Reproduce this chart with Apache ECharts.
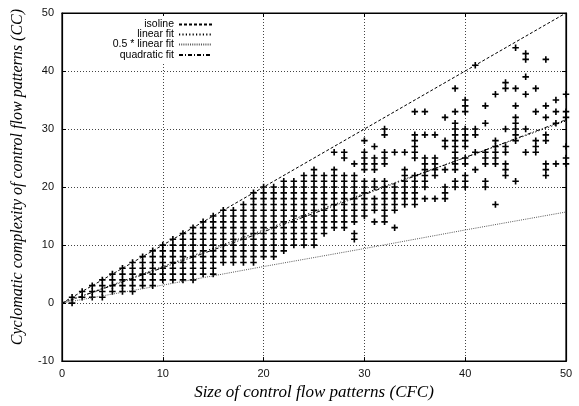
<!DOCTYPE html>
<html>
<head>
<meta charset="utf-8">
<script src="https://cdn.jsdelivr.net/npm/echarts@6/dist/echarts.min.js"></script>
<style>
html,body{margin:0;padding:0;background:#fff;}
#chart{width:579px;height:406px;}
</style>
</head>
<body>
<div id="chart"></div>
<script>
// Size of control flow patterns (x) for each column of observations
const cfcSizes = [1,2,3,4,5,6,7,8,9,10,11,12,13,14,15,16,17,18,19,20,21,22,23,24,25,26,27,28,29,30,31,32,33,34,35,36,37,38,39,40,41,42,43,44,45,46,47,48,49,50];
const ccValues = [
  [0,1],
  [1,2],
  [1,2,3],
  [1,2,3,4],
  [2,3,4,5],
  [2,3,4,5,6],
  [2,3,4,5,6,7],
  [3,4,5,6,7,8],
  [3,4,5,6,7,8,9],
  [4,5,6,7,8,9,10],
  [4,5,6,7,8,9,10,11],
  [4,5,6,7,8,9,10,11,12],
  [4,5,6,7,8,9,10,11,12,13],
  [5,6,7,8,9,10,11,12,13,14],
  [5,6,7,8,9,10,11,12,13,14,15],
  [7,8,9,10,11,12,13,14,15,16],
  [7,8,9,10,11,12,13,14,15,16],
  [7,8,9,10,11,12,13,14,15,16,17],
  [7,8,9,10,11,12,13,14,15,16,17,18,19],
  [8,9,10,11,12,13,14,15,16,17,18,19,20],
  [8,9,10,11,12,13,14,15,16,17,18,19,20],
  [9,10,11,12,13,14,15,16,17,18,19,20,21],
  [10,11,12,13,14,15,16,17,18,19,20,21],
  [10,11,12,13,14,15,16,17,18,19,20,21,22],
  [10,11,12,13,14,15,16,17,18,19,20,21,22,23],
  [12,13,14,15,16,17,18,19,20,21,22],
  [13,14,15,16,17,18,19,20,21,22,23,26],
  [13,14,15,16,17,18,19,20,21,22,25,26],
  [11,12,14,15,16,17,18,19,20,21,22,24],
  [15,16,17,18,19,20,21,23,24,25,26,28],
  [14,16,17,18,20,21,23,24,25,27],
  [14,15,16,17,18,19,20,21,24,25,26,29,30],
  [13,16,17,18,19,20,26],
  [17,18,19,20,21,22,23,26],
  [17,18,19,20,21,22,25,26,27,28,29,33],
  [18,20,21,22,23,24,25,29,33],
  [18,22,23,24,25,29],
  [18,19,20,23,27,28,32],
  [20,21,23,24,25,26,27,28,29,30,31,33,37],
  [20,21,22,24,25,27,28,29,30,33,34,35],
  [23,26,29,30,41],
  [20,21,24,25,26,31,34],
  [17,24,25,26,27,28,36],
  [22,23,24,26,27,30,37,38],
  [21,28,29,30,31,32,34,37,44],
  [26,30,36,39,42,43],
  [26,27,28,33,37],
  [22,23,24,28,29,32,34,42],
  [24,31,33,35],
  [24,25,27,32,33,36]
];
// Reference / fit lines
const fitX = [0,10,20,30,40,50];
const isoline = [0,10,20,30,40,50];
const linearFit = [0,6.3,12.6,18.9,25.1,31.4];
const halfLinearFit = [0,3.1,6.3,9.4,12.6,15.7];
const quadraticFit = [0,6.1,12.3,18.7,25.1,31.6];
const xTicks = [0,10,20,30,40,50];
const yTicks = [-10,0,10,20,30,40,50];

const seriesNames = ['isoline','linear fit','0.5 * linear fit','quadratic fit'];

const points = [];
cfcSizes.forEach((x, i) => ccValues[i].forEach(y => points.push([x, y])));
const pair = arr => fitX.map((x, i) => [x, arr[i]]);

const plusPath = 'path://M3,0H5V3H8V5H5V8H3V5H0V3H3Z';
const FONT = 'Liberation Sans';

const chart = echarts.init(document.getElementById('chart'), null, {renderer: 'canvas'});

const baseAxisLabel = {color: '#111', fontSize: 11, fontFamily: FONT};
const gridLine = {show: true, lineStyle: {color: '#444', width: 1, type: [1, 2]}};

function legendFor(name, top) {
  return {
    data: [name],
    right: 363,
    top: top,
    padding: [3, 3, 3, 3],
    backgroundColor: '#fff',
    align: 'right',
    itemWidth: 33,
    itemHeight: 10,
    selectedMode: false,
    textStyle: {fontSize: 10.5, fontFamily: FONT, color: '#000'}
  };
}

const lineItemStyle = {color: '#000', opacity: 0};

const option = {
  animation: false,
  backgroundColor: '#fff',
  grid: {left: 62, right: 13, top: 13, bottom: 42, show: true, borderColor: '#000', borderWidth: 1.2, backgroundColor: 'transparent'},
  legend: [
    legendFor(seriesNames[0], 16),
    legendFor(seriesNames[1], 26),
    legendFor(seriesNames[2], 36),
    legendFor(seriesNames[3], 46.5)
  ],
  xAxis: [{
    type: 'value', min: xTicks[0], max: xTicks[xTicks.length - 1], interval: 10,
    axisLine: {show: true, onZero: false, lineStyle: {color: '#000', width: 1.2}},
    axisTick: {show: true, inside: true, length: 4, lineStyle: {color: '#000'}},
    axisLabel: Object.assign({margin: 7}, baseAxisLabel),
    splitLine: gridLine,
    name: 'Size of control flow patterns (CFC)',
    nameLocation: 'middle',
    nameGap: 20,
    nameTextStyle: {fontFamily: 'Liberation Serif', fontStyle: 'italic', fontSize: 17, color: '#000'}
  }, {
    type: 'value', position: 'top', min: 0, max: 50, interval: 10,
    axisLine: {show: true, onZero: false, lineStyle: {color: '#000', width: 1.2}},
    axisTick: {show: true, inside: true, length: 4, lineStyle: {color: '#000'}},
    axisLabel: {show: false}, splitLine: {show: false}
  }],
  yAxis: [{
    type: 'value', min: yTicks[0], max: yTicks[yTicks.length - 1], interval: 10,
    axisLine: {show: true, onZero: false, lineStyle: {color: '#000', width: 1.2}},
    axisTick: {show: true, inside: true, length: 4, lineStyle: {color: '#000'}},
    axisLabel: Object.assign({margin: 8}, baseAxisLabel),
    splitLine: gridLine,
    name: 'Cyclomatic complexity of control flow patterns (CC)',
    nameLocation: 'middle',
    nameGap: 36,
    nameRotate: 90,
    nameTextStyle: {fontFamily: 'Liberation Serif', fontStyle: 'italic', fontSize: 16, color: '#000', padding: [0, 0, 0, 20]}
  }, {
    type: 'value', position: 'right', min: -10, max: 50, interval: 10,
    axisLine: {show: true, onZero: false, lineStyle: {color: '#000', width: 1.2}},
    axisTick: {show: true, inside: true, length: 4, lineStyle: {color: '#000'}},
    axisLabel: {show: false}, splitLine: {show: false}
  }],
  series: [
    {
      type: 'scatter', name: 'data', data: points,
      symbol: plusPath, symbolSize: 6.5,
      itemStyle: {color: '#000', opacity: 1},
      clip: true, z: 2
    },
    {
      type: 'line', name: seriesNames[0], data: pair(isoline), symbol: 'none',
      itemStyle: lineItemStyle,
      lineStyle: {color: '#000', width: 1, type: [3, 2]}, z: 3, silent: true
    },
    {
      type: 'line', name: seriesNames[1], data: pair(linearFit), symbol: 'none',
      itemStyle: lineItemStyle,
      lineStyle: {color: '#000', width: 1, type: [1.2, 2.2]}, z: 3, silent: true
    },
    {
      type: 'line', name: seriesNames[2], data: pair(halfLinearFit), symbol: 'none',
      itemStyle: lineItemStyle,
      lineStyle: {color: '#555', width: 1, type: [1, 1.2]}, z: 3, silent: true
    },
    {
      type: 'line', name: seriesNames[3], data: pair(quadraticFit), symbol: 'none', smooth: true,
      itemStyle: lineItemStyle,
      lineStyle: {color: '#000', width: 1, type: [4, 2, 1, 2]}, z: 3, silent: true
    }
  ]
};
chart.setOption(option);
</script>
</body>
</html>
